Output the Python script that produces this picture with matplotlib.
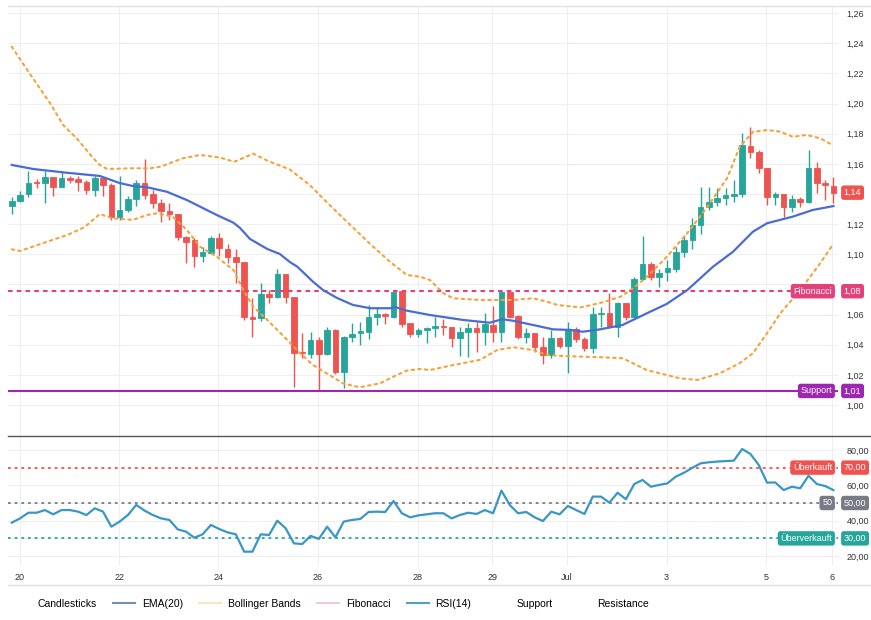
import numpy as np
import matplotlib
matplotlib.use('Agg')
import matplotlib.pyplot as plt
from matplotlib.lines import Line2D
from matplotlib.ticker import FuncFormatter

plt.rcParams['font.family'] = ['Liberation Sans', 'DejaVu Sans']

# 4h candles
opens = [1.132, 1.1356, 1.1398, 1.148, 1.1476, 1.151, 1.1445, 1.1505, 1.150, 1.148,
         1.1425, 1.1505, 1.146, 1.1245, 1.1295, 1.137, 1.1475, 1.140, 1.1342, 1.129,
         1.1267, 1.1115, 1.1095, 1.0989, 1.101, 1.1106, 1.1035, 1.098, 1.0951, 1.0586,
         1.0575, 1.0735, 1.0719, 1.0867, 1.0719, 1.0354, 1.0338, 1.0431, 1.0338, 1.0498,
         1.0221, 1.0449, 1.0476, 1.0482, 1.0586, 1.0602, 1.0586, 1.0756, 1.0542, 1.0471,
         1.0495, 1.0509, 1.0526, 1.052, 1.0443, 1.0482, 1.0509, 1.0482, 1.053, 1.0486,
         1.0752, 1.059, 1.0453, 1.0476, 1.0387, 1.0332, 1.0443, 1.0394, 1.0502, 1.0436,
         1.0376, 1.0604, 1.0612, 1.052, 1.0675, 1.0582, 1.0838, 1.0934, 1.0851, 1.0881,
         1.090, 1.1017, 1.1095, 1.1194, 1.1312, 1.1345, 1.1372, 1.1387, 1.1398, 1.1721,
         1.1681, 1.1571, 1.1382, 1.1398, 1.1316, 1.1367, 1.1349, 1.1571, 1.1471, 1.1453]
highs = [1.138, 1.142, 1.155, 1.150, 1.155, 1.151, 1.155, 1.152, 1.152, 1.149,
         1.152, 1.151, 1.147, 1.152, 1.139, 1.149, 1.163, 1.1427, 1.1366, 1.1338,
         1.1267, 1.112, 1.111, 1.105, 1.112, 1.114, 1.1066, 1.1035, 1.0951, 1.0708,
         1.0807, 1.0763, 1.090, 1.0867, 1.0719, 1.0476, 1.0486, 1.0453, 1.052, 1.0502,
         1.0458, 1.0542, 1.0553, 1.0664, 1.0652, 1.0608, 1.0763, 1.0763, 1.0546, 1.0509,
         1.052, 1.0586, 1.0568, 1.052, 1.0516, 1.0542, 1.0553, 1.0608, 1.0657, 1.0763,
         1.0763, 1.0597, 1.0509, 1.0476, 1.0449, 1.0498, 1.0453, 1.0553, 1.052, 1.0453,
         1.0652, 1.0652, 1.0741, 1.0685, 1.0679, 1.0851, 1.1121, 1.0951, 1.090, 1.0962,
         1.105, 1.1128, 1.1239, 1.1449, 1.1449, 1.1438, 1.1438, 1.1493, 1.1803, 1.1847,
         1.1692, 1.1571, 1.1415, 1.1398, 1.1393, 1.1382, 1.1692, 1.1614, 1.1493, 1.1511]
lows = [1.127, 1.135, 1.138, 1.144, 1.134, 1.139, 1.1445, 1.147, 1.142, 1.140,
        1.139, 1.139, 1.1228, 1.1228, 1.128, 1.132, 1.137, 1.1306, 1.1217, 1.1228,
        1.1095, 1.094, 1.0914, 1.0951, 1.1007, 1.099, 1.0944, 1.0807, 1.0564, 1.0453,
        1.056, 1.0679, 1.0708, 1.0675, 1.0117, 1.031, 1.031, 1.0095, 1.0332, 1.0206,
        1.011, 1.042, 1.0398, 1.0436, 1.0531, 1.0535, 1.0575, 1.052, 1.0453, 1.0453,
        1.0413, 1.0453, 1.0464, 1.0387, 1.0325, 1.0317, 1.0354, 1.0398, 1.042, 1.042,
        1.0575, 1.0436, 1.041, 1.0354, 1.0272, 1.031, 1.0376, 1.0214, 1.042, 1.036,
        1.0343, 1.052, 1.0509, 1.0449, 1.0564, 1.0575, 1.0829, 1.0829, 1.0781, 1.0825,
        1.0885, 1.0984, 1.1033, 1.1135, 1.1294, 1.1318, 1.1327, 1.1349, 1.1382, 1.1637,
        1.1538, 1.1327, 1.1327, 1.1246, 1.1283, 1.1316, 1.1338, 1.1409, 1.1360, 1.1338]
closes = [1.1356, 1.1395, 1.1476, 1.147, 1.151, 1.1445, 1.1505, 1.1495, 1.148, 1.1425,
          1.1505, 1.146, 1.1245, 1.1295, 1.137, 1.1475, 1.1395, 1.1342, 1.1287, 1.1267,
          1.1115, 1.1084, 1.0989, 1.1018, 1.1106, 1.104, 1.098, 1.0951, 1.0582, 1.0571,
          1.0735, 1.0719, 1.0867, 1.0719, 1.0347, 1.0343, 1.0431, 1.0338, 1.0498, 1.0221,
          1.0449, 1.0471, 1.0491, 1.0586, 1.0602, 1.059, 1.0748, 1.0537, 1.0471, 1.0498,
          1.0509, 1.0526, 1.052, 1.0443, 1.0482, 1.0509, 1.0486, 1.0535, 1.0486, 1.0752,
          1.0586, 1.0449, 1.0476, 1.0387, 1.0332, 1.0443, 1.0394, 1.0505, 1.0436, 1.0376,
          1.0604, 1.0612, 1.052, 1.0675, 1.0582, 1.0838, 1.0934, 1.0851, 1.0874, 1.0907,
          1.1017, 1.1095, 1.1194, 1.1312, 1.1345, 1.1376, 1.1393, 1.1398, 1.1725, 1.1681,
          1.1571, 1.1382, 1.1398, 1.1316, 1.1367, 1.1349, 1.1571, 1.1471, 1.146, 1.1409]

# EMA(20) and Bollinger bands, sampled along the drawn lines (x = candle index)
ema_x = [0, 2.6, 6.7, 10.6, 13.0, 14.6, 16.3, 18.7, 21.1, 23.5, 24.7, 26.7, 27.5, 28.7, 30.8,
         32.3, 33.5, 34.4, 36.3, 37.5, 39.2, 41.1, 43.2, 45.6, 46.2, 47.6, 50.4, 54.4, 57.6,
         59.1, 60.4, 62.8, 65.2, 67.3, 68.8, 70.9, 73.6, 76.5, 78.9, 81.4, 84.5, 86.9, 89.3,
         91.0, 94.1, 96.5, 99.0]
ema = [1.1593, 1.1566, 1.1541, 1.1520, 1.1473, 1.1453, 1.1445, 1.1415, 1.1360, 1.1294,
       1.1261, 1.1210, 1.1175, 1.1102, 1.1035, 1.1002, 1.0949, 1.0918, 1.0818, 1.0763,
       1.0710, 1.0664, 1.0642, 1.0642, 1.0650, 1.0626, 1.0597, 1.0564, 1.0546, 1.0569,
       1.0559, 1.0531, 1.0502, 1.0498, 1.0486, 1.0502, 1.0531, 1.0608, 1.0670, 1.0763,
       1.0918, 1.1017, 1.1150, 1.1206, 1.1250, 1.1294, 1.1320]

bb_up_x = [0, 1.6, 4.6, 6.2, 7.9, 9.8, 10.6, 11.5, 14.6, 16.7, 17.9, 20.6, 22.7, 25.1, 26.8,
           29.1, 30.9, 33.5, 35.9, 38.3, 40.8, 43.2, 45.6, 47.6, 49.2, 50.4, 52.0, 53.2, 56.4,
           60.4, 62.8, 64.5, 65.7, 68.5, 70.9, 73.3, 74.9, 76.5, 78.9, 81.4, 83.8, 86.2, 87.7,
           89.3, 91.0, 92.6, 94.1, 95.8, 97.4, 98.9]
bb_up = [1.2378, 1.2245, 1.2004, 1.1858, 1.1765, 1.1639, 1.1593, 1.1566, 1.1571, 1.1571,
         1.1581, 1.1637, 1.1659, 1.1642, 1.1614, 1.1668, 1.1619, 1.1563, 1.1460, 1.1327,
         1.1194, 1.1068, 1.0949, 1.0863, 1.0851, 1.0829, 1.0741, 1.0708, 1.0697, 1.0697,
         1.0708, 1.0685, 1.0664, 1.0647, 1.0677, 1.0717, 1.0776, 1.0849, 1.0982, 1.1141,
         1.1314, 1.1506, 1.1712, 1.1812, 1.1825, 1.1814, 1.1780, 1.1792, 1.1770, 1.1725]
bb_lo_x = [0, 1.0, 3.8, 6.7, 8.8, 10.6, 12.1, 14.6, 16.3, 17.5, 19.4, 21.1, 22.7, 24.7, 26.7,
           27.9, 29.1, 30.8, 33.2, 34.7, 36.3, 39.9, 41.9, 44.4, 46.4, 47.6, 49.2, 50.4, 53.2,
           56.4, 58.5, 60.4, 62.8, 64.5, 66.4, 68.5, 70.9, 73.6, 76.5, 78.9, 80.5, 82.6, 85.3,
           87.7, 89.3, 91.0, 92.6, 95.0, 97.4, 98.9]
bb_lo = [1.1033, 1.1022, 1.1075, 1.1128, 1.1181, 1.1267, 1.1239, 1.1228, 1.1261, 1.1272,
         1.1249, 1.1161, 1.1050, 1.0984, 1.0896, 1.0763, 1.0652, 1.0564, 1.0431, 1.0345,
         1.0265, 1.0144, 1.0117, 1.0144, 1.0199, 1.0228, 1.0239, 1.0232, 1.0265, 1.0299,
         1.0365, 1.0383, 1.0365, 1.0332, 1.0325, 1.0321, 1.0317, 1.0310, 1.0232, 1.0199,
         1.0177, 1.0166, 1.0210, 1.0277, 1.0343, 1.0476, 1.0608, 1.0763, 1.0940, 1.1062]

rsi = [38.9, 41.3, 44.5, 44.5, 46.0, 43.6, 46.0, 46.0, 45.1, 43.2,
       47.0, 45.1, 36.6, 39.5, 43.2, 48.9, 45.7, 43.2, 41.3, 40.4,
       35.1, 33.8, 30.4, 32.3, 37.6, 35.3, 33.4, 32.3, 22.5, 22.5,
       32.3, 31.9, 40.0, 35.7, 27.2, 26.8, 31.4, 29.7, 36.6, 30.6,
       39.5, 40.4, 41.0, 44.9, 45.1, 44.9, 51.1, 44.2, 41.9, 43.0,
       43.6, 44.2, 44.2, 41.3, 43.2, 44.5, 43.8, 46.0, 44.2, 57.0,
       48.9, 44.2, 44.9, 41.9, 39.8, 45.1, 43.6, 48.3, 46.0, 43.8,
       53.6, 53.6, 50.2, 55.8, 52.1, 60.7, 63.0, 59.2, 60.2, 61.1,
       64.9, 67.1, 69.9, 72.4, 73.0, 73.4, 73.7, 73.9, 80.5, 77.7,
       71.5, 61.5, 61.6, 57.3, 59.2, 58.3, 65.4, 60.7, 59.6, 57.3]

fib_level = 1.0755
support_level = 1.0093
rsi_levels = [70, 50, 30]
rsi_level_names = ['Überkauft', '50', 'Überverkauft']

date_labels = ['20', '22', '24', '26', '28', '29', 'Jul', '3', '5', '6']
date_pos = [1.0, 12.95, 24.9, 36.9, 48.9, 57.9, 66.9, 78.9, 90.9, 98.8]

GREEN = '#26a69a'
RED = '#ef5350'
EMA_C = '#4a6cd4'
BB_C = '#f5a23a'
FIB_C = '#e4407a'
SUP_C = '#9c27b0'
RSI_C = '#3a96c6'
GRID = '#efefef'

W, H = 871, 620
fig = plt.figure(figsize=(W / 100, H / 100), dpi=100)


def box(x0, y0, x1, y1):
    return [x0 / W, 1 - y1 / H, (x1 - x0) / W, (y1 - y0) / H]


ax = fig.add_axes(box(8, 6, 838, 436))
ax_rsi = fig.add_axes(box(8, 436, 838, 566), sharex=ax)


def fmt(v):
    return f'{v:.2f}'.replace('.', ',')


# axis labels that sit under a tag box are left out
def axis_fmt(tagged):
    return FuncFormatter(lambda v, p: '' if any(abs(v - t) < 0.008 * max(1, abs(t)) for t in tagged) else fmt(v))


# candles
idx = np.arange(len(closes))
o = np.array(opens)
c = np.array(closes)
col = np.where(c >= o, GREEN, RED)
ax.vlines(idx, lows, highs, colors=col, lw=1, zorder=3)
ax.bar(idx, c - o, bottom=o, width=0.68, color=col, edgecolor=col, linewidth=0.6, zorder=4)

ax.plot(ema_x, ema, color=EMA_C, lw=1.6, zorder=6)
for bx, by in [(bb_up_x, bb_up), (bb_lo_x, bb_lo)]:
    ax.plot(bx, by, color=BB_C, lw=1.5, dashes=(1.2, 2.0), dash_capstyle='round', zorder=5)

ax.axhline(fib_level, color=FIB_C, lw=1.5, dashes=(2.2, 2.0), zorder=5)
ax.axhline(support_level, color=SUP_C, lw=1.5, zorder=5)

ax.set_xlim(-0.45, 99.55)
ax.set_ylim(0.9794, 1.2648)
ax.set_yticks(np.arange(1.00, 1.261, 0.02))
ax.yaxis.set_major_formatter(axis_fmt([closes[-1], fib_level]))
ax.yaxis.tick_right()
ax.tick_params(axis='y', length=0, pad=6, labelsize=6.5, labelcolor='#333333')
ax.tick_params(axis='x', length=0, labelbottom=False)
ax.grid(color=GRID, lw=0.8)
ax.set_axisbelow(True)
for s in ax.spines.values():
    s.set_visible(False)


def tag(axis, y, text, color, x=1.007, ha='left'):
    axis.text(x, y, text, transform=axis.get_yaxis_transform(), ha=ha, va='center',
              fontsize=6.5, color='white', clip_on=False, zorder=12,
              bbox=dict(boxstyle='round,pad=0.3', fc=color, ec='none'))


tag(ax, closes[-1], fmt(closes[-1]), RED)
tag(ax, fib_level, fmt(fib_level), FIB_C)
tag(ax, fib_level, 'Fibonacci', FIB_C, x=0.993, ha='right')
tag(ax, support_level, fmt(support_level), SUP_C)
tag(ax, support_level, 'Support', SUP_C, x=0.993, ha='right')

# RSI panel
ax_rsi.plot(idx, rsi, color=RSI_C, lw=1.6, zorder=5)
for lvl, name, lc in zip(rsi_levels, rsi_level_names, [RED, '#787b86', GREEN]):
    ax_rsi.axhline(lvl, color=lc, lw=1.3, dashes=(1.5, 2.2), zorder=4)
    tag(ax_rsi, lvl, fmt(lvl), lc)
    tag(ax_rsi, lvl, name, lc, x=0.993, ha='right')

ax_rsi.set_ylim(14.4, 87.85)
ax_rsi.set_yticks(np.arange(20, 81, 10))
ax_rsi.yaxis.set_major_formatter(axis_fmt(rsi_levels))
ax_rsi.yaxis.tick_right()
ax_rsi.tick_params(axis='y', length=0, pad=6, labelsize=6.5, labelcolor='#333333')
ax_rsi.set_xticks(date_pos)
ax_rsi.set_xticklabels(date_labels)
ax_rsi.tick_params(axis='x', length=0, pad=5, labelsize=6.5, labelcolor='#333333')
ax_rsi.grid(color=GRID, lw=0.8)
ax_rsi.set_axisbelow(True)
for s in ax_rsi.spines.values():
    s.set_visible(False)

# panel borders
fig.add_artist(Line2D([8 / W, 1], [1 - 6 / H] * 2, color='#e2e2e2', lw=1))
fig.add_artist(Line2D([8 / W, 1], [1 - 436 / H] * 2, color='#555555', lw=1))
fig.add_artist(Line2D([8 / W, 1], [1 - 585 / H] * 2, color='#e2e2e2', lw=1))

handles = [
    Line2D([], [], color='none'),
    Line2D([], [], color='#6f8db5', lw=1.5),
    Line2D([], [], color='#fbe4c6', lw=1.5),
    Line2D([], [], color='#f3c9d3', lw=1.5),
    Line2D([], [], color='#4ea3c6', lw=1.5),
    Line2D([], [], color='none'),
    Line2D([], [], color='none'),
]
names = ['Candlesticks', 'EMA(20)', 'Bollinger Bands', 'Fibonacci', 'RSI(14)', 'Support', 'Resistance']
fig.legend(handles, names, loc='center', bbox_to_anchor=(0.378, 1 - 604 / H), ncol=7,
           frameon=False, fontsize=7.5, handlelength=2.1, handletextpad=0.67,
           columnspacing=1.55)

fig.savefig('out.png', dpi=100, facecolor='white')
